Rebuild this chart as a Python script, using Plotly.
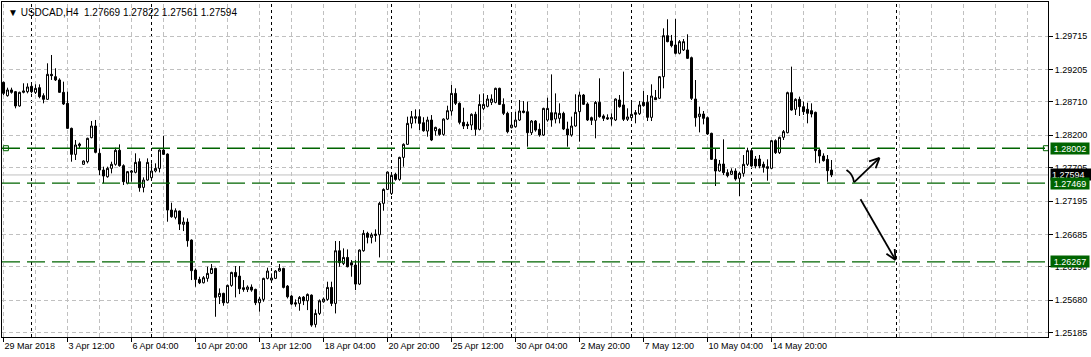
import math
import plotly.graph_objects as go

# ---------------- data ----------------
chart_title = "\u25BC USDCAD,H4\u00a0\u00a01.27669 1.27822 1.27561 1.27594"

opens = [
    1.29008, 1.28804, 1.28891, 1.28865, 1.28647, 1.28855, 1.28865, 1.28947, 1.28855, 1.28926,
    1.28804, 1.28748, 1.29130, 1.29094, 1.29044, 1.28855, 1.28687, 1.28305, 1.27908, 1.28041,
    1.27756, 1.27796, 1.28163, 1.28341, 1.27924, 1.27669, 1.27567, 1.27695, 1.27756, 1.27970,
    1.27735, 1.27466, 1.27634, 1.27634, 1.27796, 1.27404, 1.27516, 1.27552, 1.27654, 1.27694,
    1.27974, 1.27913, 1.27058, 1.26946, 1.27043, 1.26839, 1.26875, 1.26600, 1.26142, 1.25999,
    1.25948, 1.26015, 1.26091, 1.26167, 1.25735, 1.25786, 1.25643, 1.25908, 1.26106, 1.26050,
    1.25872, 1.25847, 1.25882, 1.25847, 1.25643, 1.25694, 1.26015, 1.25989, 1.26015, 1.26127,
    1.26167, 1.25897, 1.25745, 1.25643, 1.25633, 1.25729, 1.25673, 1.25760, 1.25312, 1.25480,
    1.25658, 1.25694, 1.25877, 1.25633, 1.26437, 1.26243, 1.26335, 1.26254, 1.26218, 1.25928,
    1.26437, 1.26702, 1.26641, 1.26691, 1.26681, 1.27160, 1.27373, 1.27312, 1.27603, 1.27526,
    1.27862, 1.28061, 1.28381, 1.28458, 1.28483, 1.28391, 1.28264, 1.28432, 1.28269, 1.28290,
    1.28213, 1.28447, 1.28570, 1.28839, 1.28687, 1.28397, 1.28366, 1.28356, 1.28519, 1.28290,
    1.28610, 1.28641, 1.28702, 1.28702, 1.28916, 1.28671, 1.28534, 1.28315, 1.28330, 1.28432,
    1.28570, 1.28559, 1.28239, 1.28417, 1.28290, 1.28203, 1.28432, 1.28544, 1.28447, 1.28458,
    1.28534, 1.28295, 1.28204, 1.28341, 1.28560, 1.28814, 1.28677, 1.28468, 1.28428, 1.28702,
    1.28494, 1.28468, 1.28448, 1.28433, 1.28738, 1.28662, 1.28443, 1.28468, 1.28545, 1.28529,
    1.28702, 1.28702, 1.28473, 1.28774, 1.28764, 1.29094, 1.29720, 1.29639, 1.29578, 1.29451,
    1.29502, 1.29502, 1.29384, 1.28753, 1.28484, 1.28524, 1.28468, 1.28229, 1.27832, 1.27654,
    1.27761, 1.27629, 1.27603, 1.27654, 1.27542, 1.27618, 1.27756, 1.27965, 1.27837, 1.27837,
    1.27756, 1.27720, 1.27695, 1.28117, 1.27934, 1.28168, 1.28239, 1.28850, 1.28596, 1.28748,
    1.28636, 1.28596, 1.28575, 1.28550, 1.27975, 1.27883, 1.27832, 1.27669,
]
highs = [
    1.29018, 1.28926, 1.28926, 1.28876, 1.28865, 1.28993, 1.28993, 1.28977, 1.28977, 1.28977,
    1.28840, 1.29298, 1.29425, 1.29222, 1.29069, 1.29018, 1.28865, 1.28316, 1.28127, 1.28087,
    1.27817, 1.28163, 1.28417, 1.28433, 1.28000, 1.27720, 1.27720, 1.27796, 1.28010, 1.28061,
    1.27756, 1.27654, 1.27669, 1.27924, 1.27847, 1.27557, 1.27847, 1.27771, 1.27771, 1.27984,
    1.28188, 1.27923, 1.27170, 1.27084, 1.27048, 1.26946, 1.26931, 1.26610, 1.26167, 1.26040,
    1.26050, 1.26193, 1.26234, 1.26178, 1.25862, 1.25796, 1.25918, 1.26116, 1.26203, 1.26203,
    1.25989, 1.25908, 1.25923, 1.25857, 1.25735, 1.26025, 1.26178, 1.26091, 1.26142, 1.26234,
    1.26177, 1.25913, 1.25760, 1.25694, 1.25745, 1.25745, 1.25785, 1.25770, 1.25541, 1.25694,
    1.25724, 1.25964, 1.25964, 1.26585, 1.26585, 1.26473, 1.26457, 1.26294, 1.26294, 1.26457,
    1.26752, 1.26727, 1.26712, 1.26763, 1.27185, 1.27389, 1.27648, 1.27608, 1.27628, 1.27872,
    1.28076, 1.28483, 1.28570, 1.28595, 1.28595, 1.28475, 1.28483, 1.28508, 1.28330, 1.28305,
    1.28458, 1.28651, 1.28967, 1.28916, 1.28702, 1.28620, 1.28407, 1.28534, 1.28559, 1.28824,
    1.28839, 1.28814, 1.28824, 1.28926, 1.28926, 1.28763, 1.28559, 1.28508, 1.28559, 1.28738,
    1.28722, 1.28712, 1.28432, 1.28432, 1.28381, 1.28620, 1.28773, 1.29129, 1.28839, 1.28687,
    1.28559, 1.28407, 1.28484, 1.28825, 1.28865, 1.28830, 1.28702, 1.28484, 1.28723, 1.29069,
    1.28519, 1.28519, 1.28534, 1.28763, 1.28814, 1.29171, 1.28611, 1.28702, 1.28585, 1.28723,
    1.28875, 1.28814, 1.28977, 1.28891, 1.29104, 1.29832, 1.29970, 1.29731, 1.29975, 1.29654,
    1.29669, 1.29741, 1.29400, 1.29043, 1.28636, 1.28570, 1.28484, 1.28239, 1.28000, 1.27822,
    1.28138, 1.27680, 1.27695, 1.27695, 1.27644, 1.27898, 1.28010, 1.28000, 1.27883, 1.27898,
    1.27797, 1.27832, 1.28127, 1.28138, 1.28178, 1.28280, 1.28865, 1.29247, 1.28764, 1.28789,
    1.28713, 1.28697, 1.28687, 1.28560, 1.28000, 1.27924, 1.27898, 1.27822,
]
lows = [
    1.28814, 1.28789, 1.28835, 1.28611, 1.28636, 1.28840, 1.28840, 1.28840, 1.28830, 1.28764,
    1.28687, 1.28738, 1.29044, 1.29028, 1.28850, 1.28662, 1.28295, 1.27796, 1.27822, 1.28000,
    1.27746, 1.27771, 1.28153, 1.27924, 1.27593, 1.27466, 1.27552, 1.27618, 1.27735, 1.27720,
    1.27440, 1.27450, 1.27491, 1.27618, 1.27338, 1.27328, 1.27506, 1.27542, 1.27633, 1.27633,
    1.27898, 1.26880, 1.26941, 1.26916, 1.26753, 1.26737, 1.26498, 1.25989, 1.25887, 1.25928,
    1.25938, 1.25964, 1.26081, 1.25429, 1.25623, 1.25597, 1.25633, 1.25887, 1.25725, 1.25775,
    1.25811, 1.25806, 1.25811, 1.25607, 1.25506, 1.25658, 1.25999, 1.25979, 1.26004, 1.26116,
    1.25862, 1.25709, 1.25607, 1.25582, 1.25521, 1.25607, 1.25531, 1.25276, 1.25266, 1.25455,
    1.25643, 1.25673, 1.25592, 1.25480, 1.26193, 1.26218, 1.26183, 1.26040, 1.25836, 1.25913,
    1.26422, 1.26549, 1.26549, 1.26574, 1.26335, 1.27048, 1.27363, 1.27287, 1.27506, 1.27506,
    1.27720, 1.28051, 1.28305, 1.28381, 1.28279, 1.28254, 1.28178, 1.28111, 1.28193, 1.28193,
    1.28193, 1.28432, 1.28498, 1.28661, 1.28366, 1.28295, 1.28295, 1.28279, 1.28193, 1.28274,
    1.28585, 1.28626, 1.28661, 1.28687, 1.28661, 1.28508, 1.28229, 1.28305, 1.28315, 1.28417,
    1.28534, 1.28025, 1.28203, 1.28254, 1.28178, 1.28188, 1.28407, 1.28330, 1.28381, 1.28381,
    1.28279, 1.28025, 1.28178, 1.28331, 1.28102, 1.28662, 1.28417, 1.28356, 1.28153, 1.28468,
    1.28417, 1.28433, 1.28346, 1.28417, 1.28621, 1.28417, 1.28417, 1.28458, 1.28382, 1.28509,
    1.28636, 1.28417, 1.28417, 1.28738, 1.28753, 1.28916, 1.29619, 1.29542, 1.29435, 1.29435,
    1.29486, 1.29364, 1.28738, 1.28331, 1.28244, 1.28366, 1.28204, 1.27822, 1.27425, 1.27644,
    1.27593, 1.27557, 1.27593, 1.27506, 1.27272, 1.27567, 1.27730, 1.27710, 1.27695, 1.27695,
    1.27629, 1.27506, 1.27680, 1.27914, 1.27914, 1.28127, 1.28229, 1.28575, 1.28509, 1.28494,
    1.28509, 1.28382, 1.28473, 1.27781, 1.27771, 1.27797, 1.27491, 1.27561,
]
closes = [
    1.28840, 1.28891, 1.28855, 1.28647, 1.28855, 1.28876, 1.28937, 1.28865, 1.28916, 1.28789,
    1.28748, 1.29130, 1.29110, 1.29044, 1.28855, 1.28677, 1.28305, 1.27908, 1.28051, 1.28066,
    1.27807, 1.28153, 1.28341, 1.27939, 1.27669, 1.27578, 1.27695, 1.27756, 1.27970, 1.27735,
    1.27491, 1.27644, 1.27654, 1.27786, 1.27399, 1.27516, 1.27786, 1.27654, 1.27694, 1.27974,
    1.27908, 1.27058, 1.26956, 1.27048, 1.26844, 1.26875, 1.26590, 1.26132, 1.25999, 1.25948,
    1.26025, 1.26091, 1.26167, 1.25725, 1.25786, 1.25643, 1.25908, 1.26106, 1.26040, 1.25857,
    1.25847, 1.25882, 1.25836, 1.25643, 1.25699, 1.26015, 1.26127, 1.26020, 1.26127, 1.26167,
    1.25877, 1.25734, 1.25623, 1.25623, 1.25724, 1.25673, 1.25770, 1.25302, 1.25480, 1.25673,
    1.25699, 1.25877, 1.25633, 1.26437, 1.26254, 1.26335, 1.26193, 1.26218, 1.25928, 1.26447,
    1.26702, 1.26641, 1.26681, 1.26671, 1.27160, 1.27373, 1.27638, 1.27587, 1.27526, 1.27862,
    1.28061, 1.28381, 1.28483, 1.28483, 1.28381, 1.28269, 1.28432, 1.28127, 1.28320, 1.28213,
    1.28447, 1.28575, 1.28839, 1.28687, 1.28397, 1.28341, 1.28346, 1.28519, 1.28290, 1.28671,
    1.28671, 1.28753, 1.28753, 1.28916, 1.28671, 1.28534, 1.28254, 1.28356, 1.28432, 1.28570,
    1.28549, 1.28239, 1.28417, 1.28279, 1.28203, 1.28610, 1.28610, 1.28432, 1.28544, 1.28534,
    1.28295, 1.28204, 1.28341, 1.28550, 1.28814, 1.28672, 1.28433, 1.28428, 1.28702, 1.28484,
    1.28458, 1.28448, 1.28468, 1.28753, 1.28636, 1.28443, 1.28479, 1.28519, 1.28519, 1.28662,
    1.28652, 1.28473, 1.28799, 1.28743, 1.29094, 1.29720, 1.29629, 1.29568, 1.29451, 1.29629,
    1.29629, 1.29374, 1.28763, 1.28468, 1.28524, 1.28458, 1.28219, 1.27832, 1.27654, 1.27761,
    1.27629, 1.27583, 1.27654, 1.27532, 1.27618, 1.27756, 1.27965, 1.27730, 1.27730, 1.27730,
    1.27710, 1.27695, 1.28117, 1.27934, 1.28168, 1.28255, 1.28850, 1.28585, 1.28748, 1.28636,
    1.28560, 1.28535, 1.28524, 1.27965, 1.27883, 1.27812, 1.27659, 1.27594,
]
bars = list(range(len(opens)))

x_tick_bars = [0, 16, 32, 48, 64, 80, 96, 112, 128, 144, 160, 176, 192]
x_tick_labels = ["29 Mar 2018", "3 Apr 12:00", "6 Apr 04:00", "10 Apr 20:00",
                 "13 Apr 12:00", "18 Apr 04:00", "20 Apr 20:00", "25 Apr 12:00",
                 "30 Apr 04:00", "2 May 20:00", "7 May 12:00", "10 May 04:00",
                 "14 May 20:00"]
y_tick_values = [1.29715, 1.29205, 1.28710, 1.28200, 1.27705,
                 1.27195, 1.26685, 1.26190, 1.25680, 1.25185]
y_tick_labels = ["1.29715", "1.29205", "1.28710", "1.28200", "1.27705",
                 "1.27195", "1.26685", "1.26190", "1.25680", "1.25185"]

level_prices = [1.28002, 1.27469, 1.26267]
level_labels = ["1.28002", "1.27469", "1.26267"]
bid_price = 1.27594
bid_label = "1.27594"
week_start_bars = [7, 37, 67, 97, 127, 157, 187]
vertical_line_bar = 223.25
grid_step_bars = 8

# drawn objects (bar index, price)
squiggle_points_x = [210.75, 211.75, 212.375, 212.625]
squiggle_points_y = [1.27669, 1.27616, 1.27547, 1.27479]
arrow_up = ((212.625, 1.27479), (219.0, 1.27853))
arrow_down = ((214.25, 1.27222), (223.0, 1.26296))

# ---------------- layout constants ----------------
W, H = 1091, 357
M_L, M_R, M_T, M_B = 2, 43, 2, 20
PLOT_W = W - M_L - M_R
PLOT_H = H - M_T - M_B
X_RANGE = [-0.375, 261.125]
Y_RANGE = [1.25120, 1.30234]
PX_PER_BAR = PLOT_W / (X_RANGE[1] - X_RANGE[0])
PX_PER_PRICE = PLOT_H / (Y_RANGE[1] - Y_RANGE[0])

GREEN = "#006400"
GRID = "#c0c0c0"
FONT = "Liberation Sans"


def arrow_path(tail, tip, head_len=11, head_angle=0.45):
    dx = (tip[0] - tail[0]) * PX_PER_BAR
    dy = (tip[1] - tail[1]) * PX_PER_PRICE
    ang = math.atan2(dy, dx)
    xs = [tail[0], tip[0], None]
    ys = [tail[1], tip[1], None]
    for s in (1, -1):
        a = ang + math.pi + s * head_angle
        xs += [tip[0], tip[0] + head_len * math.cos(a) / PX_PER_BAR, None]
        ys += [tip[1], tip[1] + head_len * math.sin(a) / PX_PER_PRICE, None]
    return xs, ys


fig = go.Figure()

fig.add_trace(go.Candlestick(
    x=bars, open=opens, high=highs, low=lows, close=closes,
    increasing=dict(line=dict(color="black", width=1), fillcolor="white"),
    decreasing=dict(line=dict(color="black", width=1), fillcolor="black"),
    whiskerwidth=0, hoverinfo="skip", showlegend=False,
))

# selection squares on the 1.28002 line
fig.add_trace(go.Scatter(
    x=[0.6, 260.6], y=[level_prices[0], level_prices[0]], mode="markers",
    marker=dict(symbol="square", size=5, color="white",
                line=dict(color=GREEN, width=1)),
    cliponaxis=False, hoverinfo="skip", showlegend=False,
))

# hand-drawn arrows
fig.add_trace(go.Scatter(
    x=squiggle_points_x, y=squiggle_points_y, mode="lines",
    line=dict(color="black", width=1.8, shape="spline"),
    hoverinfo="skip", showlegend=False,
))
for tail, tip in (arrow_up, arrow_down):
    ax_, ay_ = arrow_path(tail, tip)
    fig.add_trace(go.Scatter(
        x=ax_, y=ay_, mode="lines", line=dict(color="black", width=1.8),
        hoverinfo="skip", showlegend=False,
    ))

shapes = []
for v in range(0, int(X_RANGE[1]) + 1, grid_step_bars):
    shapes.append(dict(type="line", xref="x", yref="paper", x0=v, x1=v, y0=0, y1=1,
                       line=dict(color=GRID, width=1, dash="4px,3px"), layer="below"))
for v in week_start_bars + [vertical_line_bar]:
    shapes.append(dict(type="line", xref="x", yref="paper", x0=v, x1=v, y0=0, y1=1,
                       line=dict(color="black", width=1, dash="3px,3px"), layer="below"))
shapes.append(dict(type="line", xref="paper", yref="y", x0=0, x1=1, y0=bid_price, y1=bid_price,
                   line=dict(color=GRID, width=1), layer="below"))
for p in level_prices:
    shapes.append(dict(type="line", xref="paper", yref="y", x0=0, x1=1, y0=p, y1=p,
                       line=dict(color=GREEN, width=1.4, dash="18px,7px"), layer="above"))

annotations = [dict(
    xref="paper", yref="paper", x=0, y=1, xanchor="left", yanchor="top",
    xshift=4, yshift=-3, text=chart_title, showarrow=False,
    font=dict(family=FONT, size=10, color="black"),
)]
annotations.append(dict(
    xref="paper", yref="y", x=1, y=bid_price, xanchor="left", yanchor="middle",
    xshift=2, text=bid_label, showarrow=False, bgcolor="black",
    width=39, height=9, borderpad=1, align="left",
    font=dict(family=FONT, size=9, color="white"),
))
for p, lab in zip(level_prices, level_labels):
    annotations.append(dict(
        xref="paper", yref="y", x=1, y=p, xanchor="left", yanchor="middle",
        xshift=2, text=lab, showarrow=False, bgcolor=GREEN,
        width=36, height=9, borderpad=1,
        font=dict(family=FONT, size=9, color="white"),
    ))

fig.update_layout(
    width=W, height=H,
    margin=dict(l=M_L, r=M_R, t=M_T, b=M_B, pad=0),
    paper_bgcolor="white", plot_bgcolor="white",
    font=dict(family=FONT, size=9, color="black"),
    showlegend=False, hovermode=False,
    boxgap=0.5, boxgroupgap=0,
    shapes=shapes, annotations=annotations,
    xaxis=dict(
        range=X_RANGE, showgrid=False, zeroline=False,
        showline=True, linecolor="black", linewidth=1, mirror=True,
        ticks="outside", ticklen=4, tickcolor="black", tickwidth=1,
        tickvals=x_tick_bars, ticktext=x_tick_labels,
        ticklabelposition="outside right",
        tickfont=dict(family=FONT, size=9, color="black"),
        rangeslider=dict(visible=False), fixedrange=True,
    ),
    yaxis=dict(
        range=Y_RANGE, side="right", zeroline=False,
        showline=True, linecolor="black", linewidth=1, mirror=True,
        showgrid=True, gridcolor=GRID, griddash="4px,3px", gridwidth=1,
        ticks="outside", ticklen=4, tickcolor="black", tickwidth=1,
        tickvals=y_tick_values, ticktext=y_tick_labels,
        tickfont=dict(family=FONT, size=9, color="black"),
        fixedrange=True,
    ),
)

fig.write_html("out.html", config=dict(displayModeBar=False))
